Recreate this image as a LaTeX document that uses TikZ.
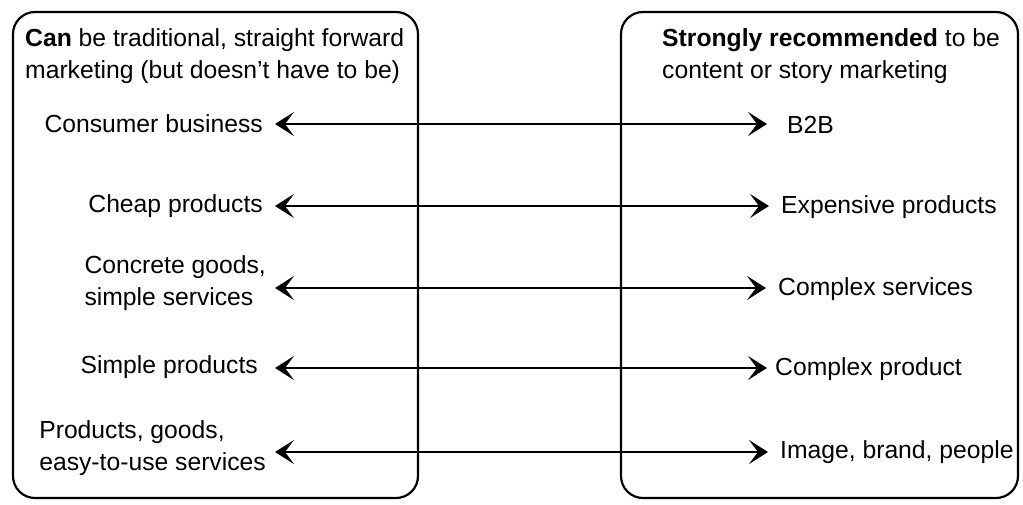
\documentclass[tikz,border=0pt]{standalone}
\usepackage{fontspec}
\setmainfont{Liberation Sans}
\usetikzlibrary{arrows.meta}
\begin{document}
\begin{tikzpicture}[x=1pt,y=-1pt,
  box/.style={draw, line width=2.2pt, rounded corners=22pt},
  lbl/.style={inner sep=0pt, font=\fontsize{24.7}{31.5}\selectfont, align=left},
  tipa/.tip={Stealth[length=19pt,width=24pt,inset=9pt]},
  arr/.style={line width=2.6pt, tipa-tipa, shorten <=12pt, shorten >=12pt}
]
\useasboundingbox (0,0) rectangle (1023,504);
\draw[box] (13,12) rectangle (418,498);
\draw[box] (621,12) rectangle (1018,498);
\node[lbl, anchor=west] (hl) at (25,56) {\textbf{Can} be traditional, straight forward\\marketing (but doesn't have to be)};
\node[lbl, anchor=west] (hr) at (662,56) {\textbf{Strongly recommended} to be\\content or story marketing};
% left labels
\node[lbl, anchor=east] (l1) at (263,124) {Consumer business};
\node[lbl, anchor=east] (l2) at (263,206) {Cheap products};
\node[lbl, anchor=east] (l3) at (266,283) {Concrete goods,\\simple services};
\node[lbl, anchor=east] (l4) at (258,367) {Simple products};
\node[lbl, anchor=east] (l5) at (266,448) {Products, goods,\\easy-to-use services};
% right labels
\node[lbl, anchor=west] (r1) at (787,125) {B2B};
\node[lbl, anchor=west] (r2) at (781,207) {Expensive products};
\node[lbl, anchor=west] (r3) at (778,289) {Complex services};
\node[lbl, anchor=west] (r4) at (775,369) {Complex product};
\node[lbl, anchor=west] (r5) at (780,452) {Image, brand, people};
% arrows
\draw[arr, shorten >=20pt] (l1.east |- 0,124) -- (r1.west |- 0,124);
\draw[arr] (l2.east |- 0,206) -- (r2.west |- 0,206);
\draw[arr, shorten <=9pt] (l3.east |- 0,288) -- (r3.west |- 0,288);
\draw[arr, shorten <=17pt, shorten >=8pt] (l4.east |- 0,368) -- (r4.west |- 0,368);
\draw[arr, shorten <=9pt] (l5.east |- 0,452) -- (r5.west |- 0,452);
\end{tikzpicture}
\end{document}
